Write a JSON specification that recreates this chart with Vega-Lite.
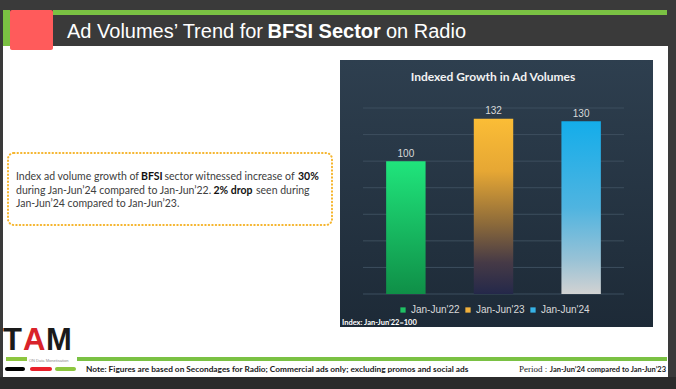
{
  "$schema": "https://vega.github.io/schema/vega-lite/v6.json",
  "width": 676,
  "height": 389,
  "autosize": {"type": "fit", "contains": "padding"},
  "padding": 0,
  "background": "#3a3a3a",
  "config": {"view": {"stroke": null}},
  "datasets": {
    "bars": [
      {"period": "Jan-Jun'22", "index": 100},
      {"period": "Jan-Jun'23", "index": 132},
      {"period": "Jan-Jun'24", "index": 130}
    ],
    "ticks": [
      {"tick": 0}, {"tick": 20}, {"tick": 40}, {"tick": 60},
      {"tick": 80}, {"tick": 100}, {"tick": 120}, {"tick": 140}
    ],
    "one": [{}]
  },
  "layer": [
    {
      "data": {"name": "bars"},
      "mark": {"type": "point", "filled": true},
      "encoding": {
        "x": {"field": "period", "type": "nominal", "axis": null,
              "scale": {"domain": ["Jan-Jun'22", "Jan-Jun'23", "Jan-Jun'24"], "range": [363, 624], "paddingInner": 0.55, "paddingOuter": 0.264}},
        "y": {"field": "index", "type": "quantitative", "axis": null,
              "scale": {"domain": [0, 140], "range": [294, 108], "nice": false, "zero": true}},
        "color": {"field": "period", "type": "nominal",
                  "scale": {"domain": ["Jan-Jun'22", "Jan-Jun'23", "Jan-Jun'24"], "range": ["#1fc063", "#f0b03c", "#36b2e6"]},
                  "legend": {"orient": "none", "legendX": 398, "legendY": 305, "direction": "horizontal", "title": null,
                             "symbolType": "square", "symbolSize": 28, "symbolStrokeWidth": 0, "symbolOpacity": 1,
                             "labelFont": "Liberation Sans", "labelFontSize": 10, "labelColor": "#d9d9d9",
                             "labelOffset": 3, "columnPadding": 3, "padding": 0}}
      }
    },
    {"data": {"name": "one"}, "mark": {"type": "rect", "x": 3, "x2": 668, "y": 46, "y2": 377, "fill": "#ffffff"}},
    {"data": {"name": "one"}, "mark": {"type": "rect", "x": 0, "x2": 676, "y": 377, "y2": 389, "fill": "#2b2b2b"}},
    {"data": {"name": "one"}, "mark": {"type": "rect", "x": 53, "x2": 667, "y": 10, "y2": 15, "fill": "#7ac143"}},
    {"data": {"name": "one"}, "mark": {"type": "rect", "x": 3, "x2": 10, "y": 10, "y2": 46, "fill": "#7ac143"}},
    {"data": {"name": "one"}, "mark": {"type": "rect", "x": 10, "x2": 53, "y": 10, "y2": 50, "fill": "#ff5b5b", "cornerRadius": 2}},
    {"data": {"name": "one"}, "mark": {"type": "text", "text": "Ad Volumes’ Trend for", "x": 67, "y": 38, "align": "left", "baseline": "alphabetic", "font": "Liberation Sans", "fontSize": 20, "fill": "#ffffff"}},
    {"data": {"name": "one"}, "mark": {"type": "text", "text": "BFSI Sector", "x": 267.5, "y": 38, "align": "left", "baseline": "alphabetic", "font": "Liberation Sans", "fontSize": 20, "fontWeight": "bold", "fill": "#ffffff"}},
    {"data": {"name": "one"}, "mark": {"type": "text", "text": "on Radio", "x": 386, "y": 38, "align": "left", "baseline": "alphabetic", "font": "Liberation Sans", "fontSize": 20, "fill": "#ffffff"}},

    {"data": {"name": "one"}, "mark": {"type": "rect", "x": 8, "x2": 332, "y": 153, "y2": 225, "fill": "#ffffff", "stroke": "#f5b52e", "strokeWidth": 2, "strokeDash": [0.5, 3], "strokeCap": "round", "cornerRadius": 6}},
    {"data": {"name": "one"}, "mark": {"type": "text", "text": "Index ad volume growth of", "x": 16, "y": 180, "align": "left", "baseline": "alphabetic", "font": "Lato", "fontSize": 10.5, "fill": "#404040"}},
    {"data": {"name": "one"}, "mark": {"type": "text", "text": "BFSI", "x": 141, "y": 180, "align": "left", "baseline": "alphabetic", "font": "Lato", "fontSize": 10.5, "fontWeight": "bold", "fill": "#111111"}},
    {"data": {"name": "one"}, "mark": {"type": "text", "text": "sector witnessed increase of", "x": 164.5, "y": 180, "align": "left", "baseline": "alphabetic", "font": "Lato", "fontSize": 10.5, "fill": "#404040"}},
    {"data": {"name": "one"}, "mark": {"type": "text", "text": "30%", "x": 298, "y": 180, "align": "left", "baseline": "alphabetic", "font": "Lato", "fontSize": 10.5, "fontWeight": "bold", "fill": "#111111"}},
    {"data": {"name": "one"}, "mark": {"type": "text", "text": "during Jan-Jun’24 compared to Jan-Jun’22.", "x": 16, "y": 193.5, "align": "left", "baseline": "alphabetic", "font": "Lato", "fontSize": 10.5, "fill": "#404040"}},
    {"data": {"name": "one"}, "mark": {"type": "text", "text": "2% drop", "x": 213.5, "y": 193.5, "align": "left", "baseline": "alphabetic", "font": "Lato", "fontSize": 10.5, "fontWeight": "bold", "fill": "#111111"}},
    {"data": {"name": "one"}, "mark": {"type": "text", "text": "seen during", "x": 256, "y": 193.5, "align": "left", "baseline": "alphabetic", "font": "Lato", "fontSize": 10.5, "fill": "#404040"}},
    {"data": {"name": "one"}, "mark": {"type": "text", "text": "Jan-Jun’24 compared to Jan-Jun’23.", "x": 16, "y": 207, "align": "left", "baseline": "alphabetic", "font": "Lato", "fontSize": 10.5, "fill": "#404040"}},

    {"data": {"name": "one"}, "mark": {"type": "rect", "x": 340, "x2": 653, "y": 60, "y2": 327,
      "fill": {"gradient": "linear", "x1": 0, "y1": 0, "x2": 0, "y2": 1, "stops": [{"offset": 0, "color": "#2e3f4f"}, {"offset": 1, "color": "#1d2a37"}]}}},
    {
      "data": {"name": "ticks"},
      "mark": {"type": "rule", "stroke": "#3d4e5e", "strokeWidth": 1},
      "encoding": {
        "x": {"value": 363}, "x2": {"value": 624},
        "y": {"field": "tick", "type": "quantitative", "axis": null,
              "scale": {"domain": [0, 140], "range": [294, 108], "nice": false, "zero": true}}
      }
    },
    {
      "data": {"name": "bars"},
      "transform": [{"filter": {"field": "period", "equal": "Jan-Jun'22"}}],
      "mark": {"type": "bar", "fill": {"gradient": "linear", "x1": 0, "y1": 0, "x2": 0, "y2": 1, "stops": [{"offset": 0, "color": "#20e57c"}, {"offset": 1, "color": "#0f8f47"}]}},
      "encoding": {
        "x": {"field": "period", "type": "nominal", "axis": null,
              "scale": {"domain": ["Jan-Jun'22", "Jan-Jun'23", "Jan-Jun'24"], "range": [363, 624], "paddingInner": 0.55, "paddingOuter": 0.264}},
        "y": {"field": "index", "type": "quantitative", "axis": null,
              "scale": {"domain": [0, 140], "range": [294, 108], "nice": false, "zero": true}}
      }
    },
    {
      "data": {"name": "bars"},
      "transform": [{"filter": {"field": "period", "equal": "Jan-Jun'23"}}],
      "mark": {"type": "bar", "fill": {"gradient": "linear", "x1": 0, "y1": 0, "x2": 0, "y2": 1, "stops": [{"offset": 0, "color": "#fbbd36"}, {"offset": 0.3, "color": "#e6a734"}, {"offset": 0.6, "color": "#8c6a3a"}, {"offset": 0.82, "color": "#463a46"}, {"offset": 1, "color": "#24284a"}]}},
      "encoding": {
        "x": {"field": "period", "type": "nominal", "axis": null,
              "scale": {"domain": ["Jan-Jun'22", "Jan-Jun'23", "Jan-Jun'24"], "range": [363, 624], "paddingInner": 0.55, "paddingOuter": 0.264}},
        "y": {"field": "index", "type": "quantitative", "axis": null,
              "scale": {"domain": [0, 140], "range": [294, 108], "nice": false, "zero": true}}
      }
    },
    {
      "data": {"name": "bars"},
      "transform": [{"filter": {"field": "period", "equal": "Jan-Jun'24"}}],
      "mark": {"type": "bar", "fill": {"gradient": "linear", "x1": 0, "y1": 0, "x2": 0, "y2": 1, "stops": [{"offset": 0, "color": "#14adea"}, {"offset": 0.5, "color": "#4fb4e0"}, {"offset": 0.8, "color": "#98c2d6"}, {"offset": 1, "color": "#d2d2d2"}]}},
      "encoding": {
        "x": {"field": "period", "type": "nominal", "axis": null,
              "scale": {"domain": ["Jan-Jun'22", "Jan-Jun'23", "Jan-Jun'24"], "range": [363, 624], "paddingInner": 0.55, "paddingOuter": 0.264}},
        "y": {"field": "index", "type": "quantitative", "axis": null,
              "scale": {"domain": [0, 140], "range": [294, 108], "nice": false, "zero": true}}
      }
    },
    {
      "data": {"name": "bars"},
      "mark": {"type": "text", "baseline": "alphabetic", "dy": -4.5, "font": "Liberation Sans", "fontSize": 10, "fill": "#d9d9d9"},
      "encoding": {
        "x": {"field": "period", "type": "nominal", "axis": null,
              "scale": {"domain": ["Jan-Jun'22", "Jan-Jun'23", "Jan-Jun'24"], "range": [363, 624], "paddingInner": 0.55, "paddingOuter": 0.264}},
        "y": {"field": "index", "type": "quantitative", "axis": null,
              "scale": {"domain": [0, 140], "range": [294, 108], "nice": false, "zero": true}},
        "text": {"field": "index", "type": "quantitative"}
      }
    },
    {"data": {"name": "one"}, "mark": {"type": "text", "text": "Indexed Growth in Ad Volumes", "x": 493, "y": 80.5, "align": "center", "baseline": "alphabetic", "font": "Lato", "fontSize": 12, "fontWeight": "bold", "fill": "#f2f2f2"}},
    {"data": {"name": "one"}, "mark": {"type": "text", "text": "Index: Jan-Jun’22=100", "x": 342, "y": 324.5, "align": "left", "baseline": "alphabetic", "font": "Lato", "fontSize": 7.5, "fontWeight": "bold", "fill": "#ffffff"}},

    {"data": {"name": "one"}, "mark": {"type": "rect", "x": 77, "x2": 667, "y": 357, "y2": 361, "fill": "#7ac143"}},
    {"data": {"name": "one"}, "mark": {"type": "rect", "x": 6, "x2": 27, "y": 357, "y2": 361, "fill": "#8dc63f"}},
    {"data": {"name": "one"}, "mark": {"type": "text", "text": "ON  Data Monetisation", "x": 29, "y": 361.5, "align": "left", "baseline": "alphabetic", "font": "Liberation Sans", "fontSize": 4, "fill": "#8a8a8a"}},
    {"data": {"name": "one"}, "mark": {"type": "rect", "x": 5, "x2": 25, "y": 367, "y2": 371, "fill": "#000000", "cornerRadius": 2}},
    {"data": {"name": "one"}, "mark": {"type": "rect", "x": 30, "x2": 52, "y": 367, "y2": 371, "fill": "#e8202a", "cornerRadius": 2}},
    {"data": {"name": "one"}, "mark": {"type": "rect", "x": 55, "x2": 76, "y": 367, "y2": 371, "fill": "#8dc63f", "cornerRadius": 2}},
    {"data": {"name": "one"}, "mark": {"type": "text", "text": "T", "x": 3, "y": 350, "align": "left", "baseline": "alphabetic", "font": "Liberation Sans", "fontSize": 31, "fontWeight": "bold", "fill": "#1a1a1a"}},
    {"data": {"name": "one"}, "mark": {"type": "text", "text": "A", "x": 23, "y": 350, "align": "left", "baseline": "alphabetic", "font": "Liberation Sans", "fontSize": 31, "fontWeight": "bold", "fill": "#d9232a"}},
    {"data": {"name": "one"}, "mark": {"type": "text", "text": "M", "x": 46, "y": 350, "align": "left", "baseline": "alphabetic", "font": "Liberation Sans", "fontSize": 31, "fontWeight": "bold", "fill": "#1a1a1a"}},
    {"data": {"name": "one"}, "mark": {"type": "text", "text": "Note: Figures are based on Secondages for Radio; Commercial ads only; excluding promos and social ads", "x": 86, "y": 372, "align": "left", "baseline": "alphabetic", "font": "Lato", "fontSize": 8.3, "fontWeight": "bold", "fill": "#1a1a1a"}},
    {"data": {"name": "one"}, "mark": {"type": "text", "text": "Period :", "x": 519, "y": 372, "align": "left", "baseline": "alphabetic", "font": "Liberation Serif", "fontSize": 9, "fill": "#1a1a1a"}},
    {"data": {"name": "one"}, "mark": {"type": "text", "text": "Jan-Jun’24 compared to Jan-Jun’23", "x": 666, "y": 372, "align": "right", "baseline": "alphabetic", "font": "Lato", "fontSize": 7.5, "fontWeight": "bold", "fill": "#1a1a1a"}}
  ]
}
